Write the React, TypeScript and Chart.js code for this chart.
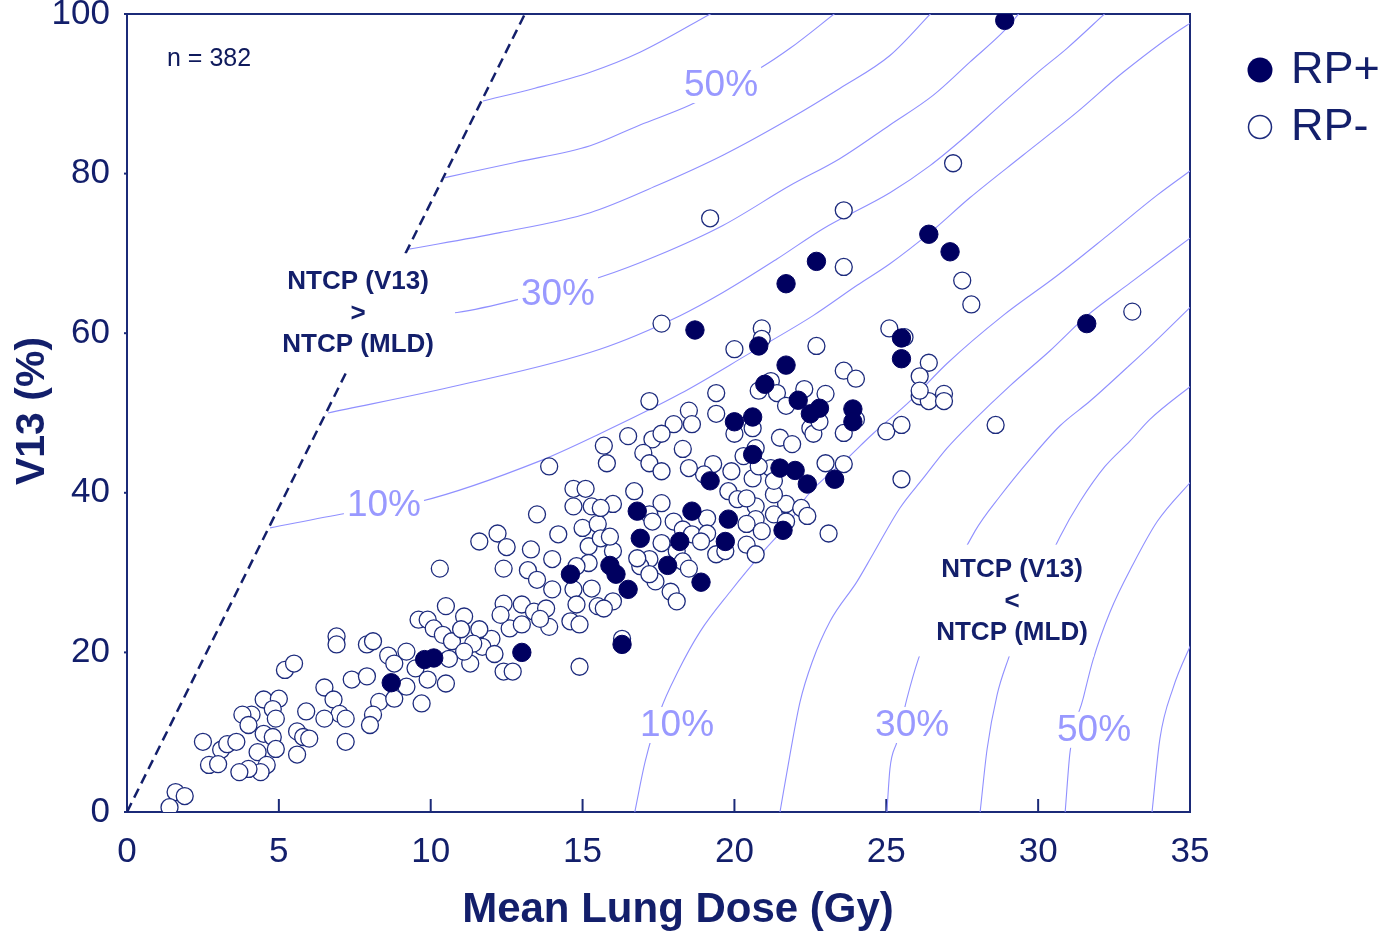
import React, { useEffect, useRef } from "react";
import { Chart, registerables } from "chart.js";

Chart.register(...registerables);

type P = [number, number];

const FONT = "'Liberation Sans', Arial, Helvetica, sans-serif";
const NAVY = "#131f6b";
const FRAME = "#1b2a78";
const DOT = "#000060";
const OPEN = "#1d2b7d";
const CONTOUR = "#9090ff";
const PCT = "#9999ff";

// ---- data ----
const xTickValues = [0, 5, 10, 15, 20, 25, 30, 35];
const yTickValues = [0, 20, 40, 60, 80, 100];

// RP+ patients (Mean Lung Dose, V13)
const rpPlus: P[] = [
  [28.9, 99.2], [26.4, 72.4], [27.1, 70.2], [22.7, 69.0], [21.7, 66.2], [18.7, 60.4], [20.8, 58.4],
  [21.7, 56.0], [31.6, 61.2], [25.5, 59.4], [25.5, 56.8], [21.0, 53.6], [22.1, 51.6], [22.8, 50.6],
  [22.5, 49.9], [20.6, 49.5], [20.0, 48.9], [23.9, 50.5], [23.9, 48.9], [20.6, 44.8], [21.5, 43.1],
  [22.0, 42.8], [22.4, 41.1], [23.3, 41.7], [19.2, 41.5], [16.8, 37.7], [18.6, 37.7], [19.8, 36.7],
  [16.9, 34.3], [18.2, 33.9], [19.7, 33.9], [21.6, 35.3], [15.9, 30.9], [16.1, 29.8], [17.8, 30.9],
  [14.6, 29.8], [16.5, 27.9], [18.9, 28.8], [16.3, 21.0], [13.0, 20.0], [10.1, 19.3], [9.8, 19.1],
  [8.7, 16.2],
];

// RP- patients (Mean Lung Dose, V13)
const rpMinus: P[] = [
  [6.9, 22.0], [6.9, 21.0], [7.9, 21.0], [8.1, 21.4], [5.2, 17.8], [5.5, 18.6], [8.6, 19.6], [8.8, 18.6],
  [9.2, 20.1], [9.5, 18.0], [7.4, 16.6], [7.9, 17.0], [8.3, 13.8], [8.8, 14.2], [9.2, 15.7], [9.6, 24.1],
  [8.1, 12.2], [8.0, 10.9], [6.5, 15.6], [6.8, 14.1], [7.0, 12.3], [7.2, 11.7], [6.5, 11.7], [5.9, 12.6],
  [5.6, 10.1], [5.8, 9.4], [6.0, 9.2], [5.6, 7.2], [7.2, 8.8], [4.5, 14.1], [5.0, 14.2], [4.1, 12.2],
  [3.8, 12.2], [4.8, 12.9], [4.9, 11.7], [4.0, 10.9], [4.5, 9.8], [4.8, 9.4], [4.3, 7.5], [4.9, 7.9],
  [4.6, 5.9], [4.4, 5.0], [4.0, 5.4], [3.7, 5.0], [2.5, 8.8], [3.1, 7.8], [3.3, 8.5], [3.6, 8.8],
  [2.7, 5.9], [3.0, 6.0], [1.6, 2.5], [1.9, 2.0], [1.4, 0.6], [9.7, 13.6],
  [13.9, 43.3], [14.7, 40.5], [15.1, 40.5], [14.7, 38.3], [15.3, 38.3], [13.5, 37.3], [15.0, 35.6],
  [15.5, 36.1], [14.2, 34.8], [11.6, 33.9], [12.2, 34.9], [12.5, 33.2], [13.3, 32.9], [15.2, 33.3],
  [14.0, 31.7], [15.2, 31.2], [14.8, 30.8], [10.3, 30.5], [12.4, 30.5], [13.2, 30.3], [13.5, 29.1],
  [14.0, 27.9], [14.7, 27.9], [15.3, 28.0], [12.4, 26.1], [13.0, 26.0], [13.4, 25.1], [13.8, 25.5],
  [14.8, 26.0], [15.5, 25.8], [14.6, 23.9], [14.9, 23.5], [13.9, 23.2], [13.6, 24.2], [12.6, 23.0],
  [13.0, 23.5], [12.3, 24.7], [12.0, 21.7], [11.7, 20.7], [12.1, 19.8], [11.3, 18.6], [12.4, 17.6],
  [12.7, 17.6], [14.9, 18.2], [10.5, 25.8], [11.1, 24.5], [9.9, 24.1], [10.1, 23.0], [10.4, 22.2],
  [10.7, 21.4], [11.0, 22.9], [11.6, 22.9], [11.4, 21.1], [11.1, 20.1], [10.6, 19.2], [10.5, 16.1],
  [9.9, 16.6], [16.3, 21.7],
  [17.2, 51.5], [18.0, 48.6], [16.5, 47.1], [17.3, 46.7], [17.6, 47.4], [17.0, 45.0], [17.2, 43.7],
  [17.6, 42.7], [15.7, 45.9], [15.8, 43.7], [16.7, 40.2], [16.0, 38.6], [15.6, 38.1], [17.6, 38.7],
  [18.0, 36.4], [17.2, 37.3], [17.3, 36.4], [17.6, 33.7], [17.2, 31.7], [16.9, 30.8], [16.0, 32.7],
  [15.6, 34.3], [15.9, 34.5], [17.4, 28.9], [17.9, 27.6], [18.1, 26.4], [17.2, 29.8], [16.0, 26.4],
  [15.7, 25.5], [16.8, 31.8], [18.1, 32.7], [18.3, 35.4], [20.7, 38.3], [21.7, 38.6], [22.2, 38.1],
  [22.4, 37.1], [21.3, 37.3], [20.7, 36.7], [20.4, 36.1], [20.9, 35.2], [20.4, 33.5], [20.7, 32.3],
  [21.7, 36.4], [23.1, 34.9], [19.1, 36.8], [18.6, 34.8], [19.1, 34.9], [18.9, 33.9], [19.4, 32.3],
  [19.7, 32.7], [18.3, 31.4], [18.5, 30.5], [19.8, 40.2], [20.1, 39.2], [20.4, 39.3], [21.3, 39.8],
  [20.9, 60.6], [20.9, 59.3], [20.0, 58.0], [22.7, 58.4], [23.6, 55.3], [19.4, 52.5], [18.5, 50.3],
  [18.6, 48.6], [19.4, 49.9], [20.8, 52.8], [21.2, 54.0], [21.4, 52.5], [21.7, 50.9], [22.3, 53.0],
  [23.0, 52.4], [20.0, 47.4], [21.5, 46.9], [21.9, 46.1], [22.5, 48.1], [22.6, 47.4], [23.6, 47.5],
  [18.3, 45.5], [20.3, 44.6], [20.7, 45.6], [21.2, 43.1], [23.0, 43.7], [23.6, 43.6], [19.9, 42.7],
  [20.6, 41.8], [21.3, 41.5], [19.3, 43.6], [19.0, 42.3], [18.5, 43.1], [22.8, 48.9], [20.6, 48.1],
  [20.8, 43.3],
  [25.1, 60.6], [25.6, 59.5], [26.4, 56.3], [26.1, 54.6], [26.1, 52.1], [26.4, 51.5], [26.9, 52.4],
  [26.9, 51.5], [26.1, 52.8], [24.0, 54.3], [25.0, 47.7], [25.5, 48.5], [25.5, 41.7], [28.6, 48.5],
  [33.1, 62.7], [27.8, 63.6], [24.0, 49.2],
  [19.2, 74.4], [23.6, 75.4], [27.2, 81.3], [23.6, 68.3], [27.5, 66.6], [17.6, 61.2],
];

// physical limit V13 <= MLD / 13 Gy
const limitLine: P[] = [[0, 0], [13.1, 100]];

// iso-NTCP contours, region NTCP(V13) > NTCP(MLD)
const isoV13_10: P[] = [[4.71, 35.6], [7.18, 37.4], [9.65, 38.9], [13.6, 44.0], [15.57, 47.4], [18.21, 52.4], [20.51, 57.5], [22.59, 62.2], [24.04, 66.0], [25.12, 68.7], [26.44, 72.6], [27.76, 77.0], [29.5, 82.3], [31.28, 87.7], [32.8, 92.7], [34.9, 98.6], [35.1, 99.0]];
const isoV13_20: P[] = [[6.62, 50.0], [10.96, 53.5], [15.57, 58.0], [18.21, 62.2], [19.62, 65.1], [21.4, 69.3], [22.92, 73.1], [25.12, 77.6], [26.44, 81.0], [27.53, 84.4], [28.65, 88.2], [29.96, 92.6], [30.95, 95.7], [32.24, 100.2]];
const isoV13_30: P[] = [[8.13, 62.0], [10.87, 62.6], [13.27, 64.6], [15.57, 67.0], [17.45, 69.7], [19.62, 73.5], [21.83, 78.5], [23.48, 81.9], [25.12, 86.1], [26.54, 89.8], [27.76, 94.0], [28.91, 98.0], [29.4, 100.2]];
const isoV13_40: P[] = [[9.22, 70.5], [12.28, 72.6], [15.25, 75.1], [17.45, 78.5], [19.62, 82.3], [21.83, 86.9], [23.48, 90.7], [25.12, 94.8], [26.5, 100.2]];
const isoV13_50: P[] = [[10.47, 79.5], [12.78, 81.4], [15.25, 83.5], [16.89, 86.1], [18.54, 88.6], [20.84, 93.2], [21.83, 95.7], [23.35, 100.2]];
const isoV13_60: P[] = [[11.72, 89.1], [13.43, 90.7], [15.25, 92.7], [16.89, 95.2], [19.3, 100.2]];

// iso-NTCP contours, region NTCP(V13) < NTCP(MLD)
const isoMLD_10: P[] = [[16.72, 0], [17.06, 6.3], [17.55, 12.6], [18.14, 17.6], [18.87, 22.6], [19.86, 27.6], [21.01, 32.9], [21.83, 36.4], [22.39, 39.6], [23.71, 44.3], [24.56, 47.4], [25.78, 51.5], [27.0, 56.2], [28.84, 62.2], [30.62, 67.2], [32.27, 72.2], [33.92, 77.3], [35.1, 80.6]];
const isoMLD_20: P[] = [[21.5, 0], [21.83, 7.2], [22.16, 13.8], [22.56, 18.8], [23.15, 23.9], [24.04, 28.9], [24.56, 32.3], [25.45, 38.1], [26.21, 41.8], [27.0, 45.6], [27.86, 49.0], [29.07, 53.4], [30.39, 57.8], [31.61, 62.2], [33.03, 66.3], [35.1, 72.2]];
const isoMLD_30: P[] = [[25.02, 0], [25.12, 5.4], [25.35, 8.8], [25.68, 14.2], [26.05, 19.1], [26.93, 27.6], [27.92, 35.2], [28.75, 39.6], [29.73, 44.2], [30.72, 48.4], [31.71, 51.5], [32.93, 55.7], [33.78, 58.7], [35.1, 63.6]];
const isoMLD_40: P[] = [[28.09, 0], [28.32, 7.9], [28.65, 14.7], [29.01, 19.1], [29.73, 26.4], [30.72, 34.5], [31.38, 38.9], [32.2, 43.3], [33.03, 46.5], [33.68, 49.2], [35.1, 53.6]];
const isoMLD_50: P[] = [[30.89, 0], [31.05, 7.5], [31.48, 14.2], [31.81, 19.1], [32.37, 25.1], [33.12, 31.0], [33.92, 36.4], [35.1, 41.7]];
const isoMLD_60: P[] = [[33.75, 0], [34.01, 9.2], [34.44, 15.5], [35.1, 21.6]];

const contours = [isoV13_10, isoV13_20, isoV13_30, isoV13_40, isoV13_50, isoV13_60, isoMLD_10, isoMLD_20, isoMLD_30, isoMLD_40, isoMLD_50, isoMLD_60];

// annotation texts (anchored in data coordinates)
const pctLabels = [
  { text: "10%", x: 8.46, y: 38.5 },
  { text: "30%", x: 14.19, y: 65.0 },
  { text: "50%", x: 19.56, y: 91.1 },
  { text: "10%", x: 18.11, y: 10.9 },
  { text: "30%", x: 25.85, y: 10.9 },
  { text: "50%", x: 31.84, y: 10.3 },
];
const regionNotes = [
  { lines: ["NTCP (V13)", ">", "NTCP (MLD)"], cx: 7.61, ys: [66.4, 62.4, 58.5], box: [4.71, 10.8, 55.4, 70.0] },
  { lines: ["NTCP (V13)", "<", "NTCP (MLD)"], cx: 29.14, ys: [30.3, 26.3, 22.4], box: [25.95, 31.84, 19.5, 33.5] },
];

const toXY = (a: P[]) => a.map(([x, y]) => ({ x, y }));

const overlayPlugin = {
  id: "overlay",
  beforeDatasetsDraw(chart: any) {
    const { ctx, chartArea: a, scales } = chart;
    ctx.save();
    ctx.strokeStyle = FRAME;
    ctx.lineWidth = 2;
    ctx.strokeRect(a.left, a.top, a.right - a.left, a.bottom - a.top);
    for (const v of xTickValues) {
      if (v === 0 || v === 35) continue;
      const px = scales.x.getPixelForValue(v);
      ctx.beginPath();
      ctx.moveTo(px, a.bottom);
      ctx.lineTo(px, a.bottom - 13);
      ctx.stroke();
    }
    for (const v of yTickValues) {
      const py = scales.y.getPixelForValue(v);
      ctx.beginPath();
      ctx.moveTo(a.left - 3, py);
      ctx.lineTo(a.left, py);
      ctx.stroke();
    }
    ctx.restore();
  },
  beforeDatasetDraw(chart: any, args: any) {
    if (args.index !== 1) return;
    const { ctx, scales } = chart;
    const X = (v: number) => scales.x.getPixelForValue(v);
    const Y = (v: number) => scales.y.getPixelForValue(v);
    ctx.save();
    ctx.textAlign = "center";
    ctx.textBaseline = "middle";
    for (const n of regionNotes) {
      const [x0, x1, y0, y1] = n.box;
      ctx.fillStyle = "#ffffff";
      ctx.fillRect(X(x0), Y(y1), X(x1) - X(x0), Y(y0) - Y(y1));
      ctx.fillStyle = NAVY;
      ctx.font = `bold 26px ${FONT}`;
      n.lines.forEach((t, i) => ctx.fillText(t, X(n.cx), Y(n.ys[i])));
    }
    ctx.font = `37px ${FONT}`;
    for (const l of pctLabels) {
      const w = ctx.measureText(l.text).width + 6;
      const cx = X(l.x), cy = Y(l.y);
      ctx.fillStyle = "#ffffff";
      ctx.fillRect(cx - w / 2, cy - 18, w, 36);
      ctx.fillStyle = PCT;
      ctx.fillText(l.text, cx, cy + 1);
    }
    ctx.restore();
  },
  afterDraw(chart: any) {
    const { ctx, chartArea: a } = chart;
    ctx.save();
    ctx.fillStyle = "#0f1a5c";
    ctx.font = `25px ${FONT}`;
    ctx.textAlign = "left";
    ctx.textBaseline = "middle";
    ctx.fillText("n = 382", a.left + 40, 59);
    ctx.fillStyle = NAVY;
    ctx.font = `bold 42px ${FONT}`;
    ctx.textAlign = "center";
    ctx.fillText("Mean Lung Dose (Gy)", 678, 910);
    ctx.save();
    ctx.translate(33, 411);
    ctx.rotate(-Math.PI / 2);
    ctx.font = `bold 41px ${FONT}`;
    ctx.fillText("V13 (%)", 0, 0);
    ctx.restore();
    ctx.beginPath();
    ctx.arc(1260, 70, 12.5, 0, Math.PI * 2);
    ctx.fillStyle = DOT;
    ctx.fill();
    ctx.beginPath();
    ctx.arc(1260, 127, 11.5, 0, Math.PI * 2);
    ctx.fillStyle = "#ffffff";
    ctx.fill();
    ctx.lineWidth = 1.5;
    ctx.strokeStyle = OPEN;
    ctx.stroke();
    ctx.fillStyle = NAVY;
    ctx.font = `45px ${FONT}`;
    ctx.textAlign = "left";
    ctx.fillText("RP+", 1291, 71);
    ctx.fillText("RP-", 1291, 128);
    ctx.restore();
  },
};

export default function App() {
  const ref = useRef<HTMLCanvasElement | null>(null);
  useEffect(() => {
    if (!ref.current) return;
    const lineDs = (arr: P[]) => ({
      data: toXY(arr),
      showLine: true,
      borderColor: CONTOUR,
      borderWidth: 1.1,
      pointRadius: 0,
      pointHoverRadius: 0,
      cubicInterpolationMode: "monotone" as const,
      fill: false,
    });
    const chart = new Chart(ref.current, {
      type: "scatter",
      data: {
        datasets: [
          {
            label: "RP+",
            data: toXY(rpPlus),
            pointRadius: 9.2,
            pointBackgroundColor: DOT,
            pointBorderColor: DOT,
            pointBorderWidth: 1,
            showLine: false,
          },
          {
            label: "RP-",
            data: toXY(rpMinus),
            pointRadius: 8.5,
            pointBackgroundColor: "#ffffff",
            pointBorderColor: OPEN,
            pointBorderWidth: 1.3,
            showLine: false,
          },
          {
            label: "limit",
            data: toXY(limitLine),
            showLine: true,
            borderColor: NAVY,
            borderWidth: 2.5,
            borderDash: [10, 6],
            pointRadius: 0,
            fill: false,
          },
          ...contours.map(lineDs),
        ] as any,
      },
      options: {
        responsive: false,
        animation: false,
        events: [],
        layout: { padding: { left: 0, top: 14, right: 202, bottom: 0 } },
        plugins: { legend: { display: false }, tooltip: { enabled: false } },
        scales: {
          x: {
            type: "linear",
            min: 0,
            max: 35,
            ticks: { stepSize: 5, color: NAVY, font: { family: FONT, size: 35 }, padding: 19 },
            grid: { display: false, drawTicks: false },
            border: { display: false },
            afterFit: (s: any) => {
              s.height = 124;
              s.paddingLeft = 0;
              s.paddingRight = 0;
            },
          },
          y: {
            type: "linear",
            min: 0,
            max: 100,
            ticks: { stepSize: 20, color: NAVY, font: { family: FONT, size: 35 }, padding: 17 },
            grid: { display: false, drawTicks: false },
            border: { display: false },
            afterFit: (s: any) => {
              s.width = 127;
              s.paddingTop = 0;
              s.paddingBottom = 0;
            },
          },
        },
      } as any,
      plugins: [overlayPlugin],
    });
    return () => chart.destroy();
  }, []);
  return (
    <div style={{ position: "fixed", left: 0, top: 0, width: 1392, height: 936, background: "#ffffff" }}>
      <canvas ref={ref} width={1392} height={936} style={{ display: "block" }} />
    </div>
  );
}
